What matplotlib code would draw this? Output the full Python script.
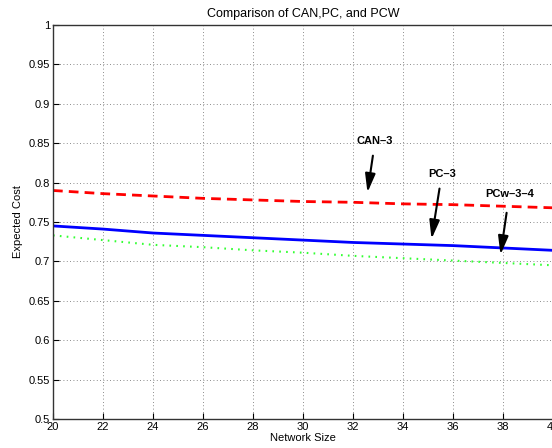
import matplotlib
matplotlib.use('Agg')
import matplotlib.pyplot as plt

# data
network_size = [20, 22, 24, 26, 28, 30, 32, 34, 36, 38, 40]
can_3 = [0.790, 0.786, 0.783, 0.780, 0.778, 0.776, 0.775, 0.773, 0.772, 0.770, 0.768]
pc_3 = [0.745, 0.741, 0.736, 0.733, 0.730, 0.727, 0.724, 0.722, 0.720, 0.717, 0.714]
pcw_3_4 = [0.733, 0.727, 0.721, 0.718, 0.714, 0.711, 0.707, 0.704, 0.701, 0.698, 0.695]

xticks = [20, 22, 24, 26, 28, 30, 32, 34, 36, 38, 40]
yticks = [0.5, 0.55, 0.6, 0.65, 0.7, 0.75, 0.8, 0.85, 0.9, 0.95, 1]
ytick_labels = ['0.5', '0.55', '0.6', '0.65', '0.7', '0.75', '0.8', '0.85', '0.9', '0.95', '1']

plt.rcParams['font.family'] = ['Liberation Sans', 'DejaVu Sans']

fig = plt.figure(figsize=(5.52, 4.48), dpi=100)
ax = fig.add_axes([0.096, 0.065, 0.906, 0.879])

ax.plot(network_size, can_3, color='#ff0000', linestyle=(0, (3.5, 2.2)), linewidth=2)
ax.plot(network_size, pc_3, color='#0000ff', linestyle='-', linewidth=2)
ax.plot(network_size, pcw_3_4, color='#33ff33', linestyle=(0, (0.8, 2.5)), linewidth=1.5)

ax.set_xlim(20, 40)
ax.set_ylim(0.5, 1)
ax.set_xticks(xticks)
ax.set_yticks(yticks)
ax.set_yticklabels(ytick_labels)
ax.tick_params(direction='in', labelsize=8, length=4, width=0.8, pad=2)
ax.grid(True, linestyle=(0, (1, 3)), color='#666666', linewidth=0.6)
for s in ax.spines.values():
    s.set_linewidth(1.0)
    s.set_color('#333333')

arrow = dict(arrowstyle='-|>,head_length=0.8,head_width=0.22', color='black', lw=1.5, mutation_scale=14)
ax.annotate('CAN\u20133', xy=(32.56, 0.784), xytext=(32.88, 0.8528),
            ha='center', va='center', fontsize=8, fontweight='bold',
            arrowprops=dict(arrow, shrinkA=5))
ax.annotate('PC\u20133', xy=(35.12, 0.725), xytext=(35.55, 0.811),
            ha='center', va='center', fontsize=8, fontweight='bold',
            arrowprops=dict(arrow, shrinkA=5))
ax.annotate('PCw\u20133\u20134', xy=(37.88, 0.705), xytext=(38.25, 0.7855),
            ha='center', va='center', fontsize=8, fontweight='bold',
            arrowprops=dict(arrow, shrinkA=8))

ax.set_title('Comparison of CAN,PC, and PCW', fontsize=9, pad=6)
ax.set_xlabel('Network Size', fontsize=8, labelpad=1)
ax.set_ylabel('Expected Cost', fontsize=8, labelpad=4)

plt.savefig('out.png', dpi=100)
